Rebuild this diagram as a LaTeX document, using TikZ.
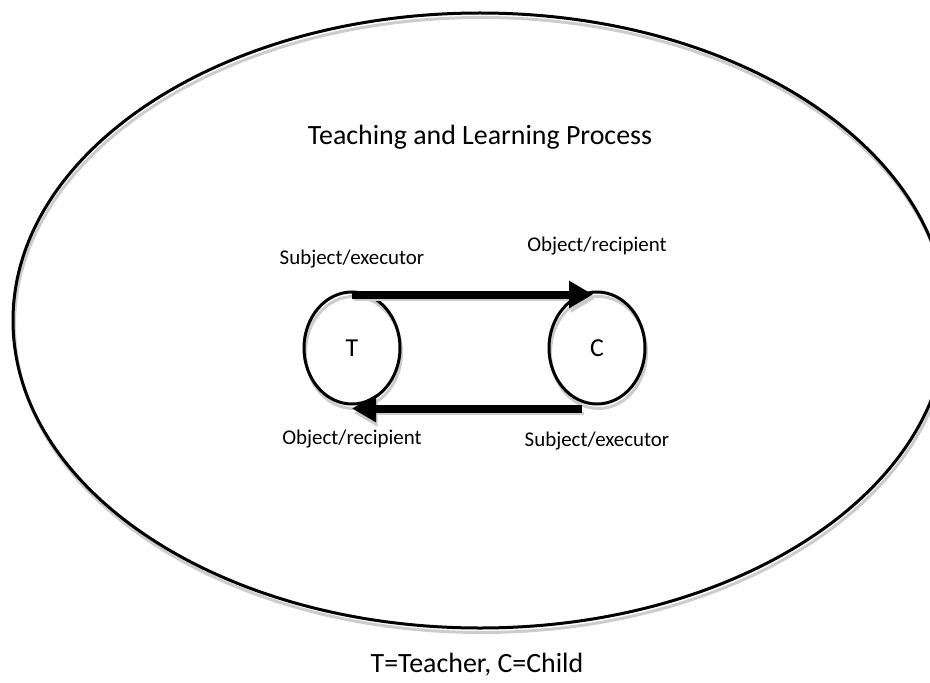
\documentclass[tikz,border=0pt]{standalone}
\usepackage{fontspec}
\setmainfont{Carlito}
\usetikzlibrary{shapes,calc,positioning,arrows.meta}

\begin{document}
\begin{tikzpicture}[x=1bp, y=-1bp, line width=3bp,
   ghost/.style={preaction={draw=black!20, transform canvas={xshift=1.5bp,yshift=-4.5bp}}},
   party/.style={ellipse, draw, ghost, minimum width=96bp, minimum height=112bp,
                 inner sep=0pt, font=\fontsize{26}{30}\selectfont},
   role/.style={font=\fontsize{21}{25}\selectfont},
   flow/.style={line width=8bp, -{Triangle[length=24bp,width=26bp]}, ghost}]

  \useasboundingbox (0,0) rectangle (930,683);
  \draw [ghost] (480,320.5) ellipse [x radius=467, y radius=307.5];

  \node [font=\fontsize{28}{33}\selectfont] (title) at (480,137) {Teaching and Learning Process};

  \node [party] (T) at (352,348) {T};
  \node [party] (C) at (597,348) {C};

  \draw [flow] ([yshift=-4bp]T.north) -- ([xshift=-4bp,yshift=-4bp]C.north);
  \draw [flow] ([xshift=-15bp,yshift=-3bp]C.south) -- ([yshift=-3bp]T.south);

  \node [role] (tsub) at ([yshift=31bp]T.north) {Subject/executor};
  \node [role] (cobj) at ([yshift=44bp]C.north) {Object/recipient};
  \node [role] (tobj) at ([yshift=-34bp]T.south) {Object/recipient};
  \node [role] (csub) at ([yshift=-36bp]C.south) {Subject/executor};

  \node [font=\fontsize{28}{33}\selectfont] (key) at (477,665) {T=Teacher, C=Child};
\end{tikzpicture}
\end{document}
